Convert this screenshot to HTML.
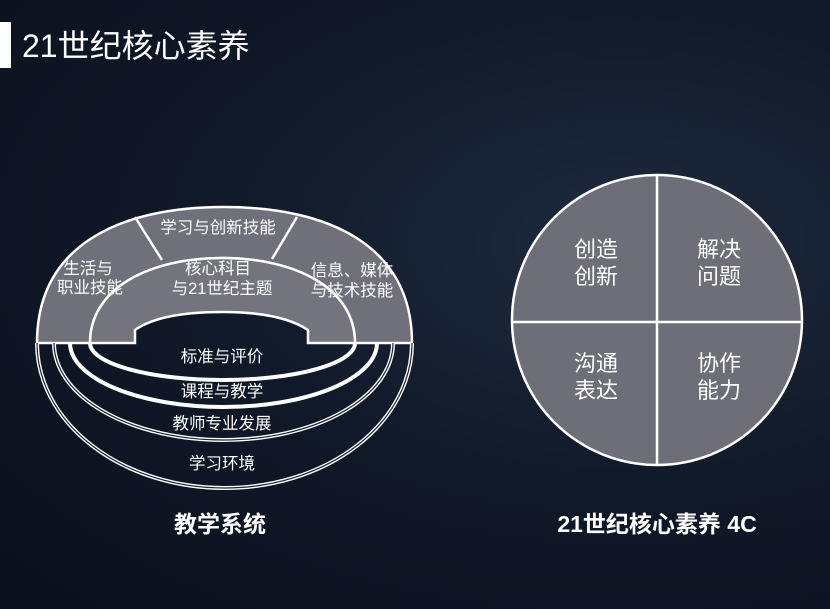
<!DOCTYPE html>
<html><head><meta charset="utf-8"><style>
html,body{margin:0;padding:0;}
body{width:830px;height:609px;overflow:hidden;background:radial-gradient(ellipse at 75% 40%,#1d2a3e 0%,#111a2a 45%,#0a0f1c 100%);}
svg{display:block}
text{font-family:"Liberation Sans","Noto Sans CJK SC",sans-serif;fill:#fff;}
</style></head><body>
<svg width="830" height="609" viewBox="0 0 830 609">
<rect x="0" y="22" width="11" height="46" fill="#fff"/>
<text x="22" y="57" font-size="32">21世纪核心素养</text>

<!-- dome -->
<path d="M37,343 C37,245 120,207 224,207 C328,207 412,245 412,343 L355,343 C355,288 295,258 222,258 C150,258 90,288 90,343 Z" fill="#6f7079" stroke="#fff" stroke-width="2.5"/>
<path d="M90,343 C90,288 150,258 222,258 C295,258 355,288 355,343 L308,343 L308,330 C290,318 262,312 222,312 C182,312 152,318 135,330 L135,343 Z" fill="#73747d" stroke="#fff" stroke-width="2.5"/>
<line x1="135" y1="217" x2="162" y2="260" stroke="#fff" stroke-width="2.5"/>
<line x1="297" y1="217" x2="272" y2="259" stroke="#fff" stroke-width="2.5"/>

<!-- rings -->
<g fill="none" stroke="#fff">
<path d="M37,343 A187.5,145 0 0 0 412,343" stroke-width="4"/>
<path d="M37,343 A187.5,145 0 0 0 412,343" stroke="#1a2233" stroke-width="1.2"/>
<path d="M54,343 A169.5,97 0 0 0 393,343" stroke-width="4"/>
<path d="M54,343 A169.5,97 0 0 0 393,343" stroke="#1a2233" stroke-width="1.2"/>
<path d="M70,343 A153.5,64 0 0 0 377,343" stroke-width="4"/>
<path d="M90,343 A132.5,37 0 0 0 355,343" stroke-width="4"/>
</g>

<g font-size="16.5" text-anchor="middle">
<text x="218" y="233">学习与创新技能</text>
<text x="88" y="274">生活与</text>
<text x="90" y="293">职业技能</text>
<text x="218" y="274">核心科目</text>
<text x="222" y="294">与21世纪主题</text>
<text x="352" y="276">信息、媒体</text>
<text x="352" y="296">与技术技能</text>
<text x="222" y="362">标准与评价</text>
<text x="222" y="397">课程与教学</text>
<text x="222" y="429">教师专业发展</text>
<text x="222" y="469">学习环境</text>
</g>

<!-- circle -->
<circle cx="657" cy="320" r="145" fill="#6d6e77" stroke="#fff" stroke-width="2.5"/>
<line x1="657" y1="175" x2="657" y2="465" stroke="#fff" stroke-width="2.5"/>
<line x1="512" y1="322" x2="802" y2="322" stroke="#fff" stroke-width="2.5"/>
<g font-size="22" text-anchor="middle">
<text x="596" y="257">创造</text>
<text x="596" y="284">创新</text>
<text x="719" y="257">解决</text>
<text x="719" y="284">问题</text>
<text x="596" y="371">沟通</text>
<text x="596" y="398">表达</text>
<text x="719" y="371">协作</text>
<text x="719" y="398">能力</text>
</g>

<g font-size="23" font-weight="bold" text-anchor="middle">
<text x="220" y="532">教学系统</text>
<text x="657" y="532">21世纪核心素养 4C</text>
</g>
</svg>
</body></html>
